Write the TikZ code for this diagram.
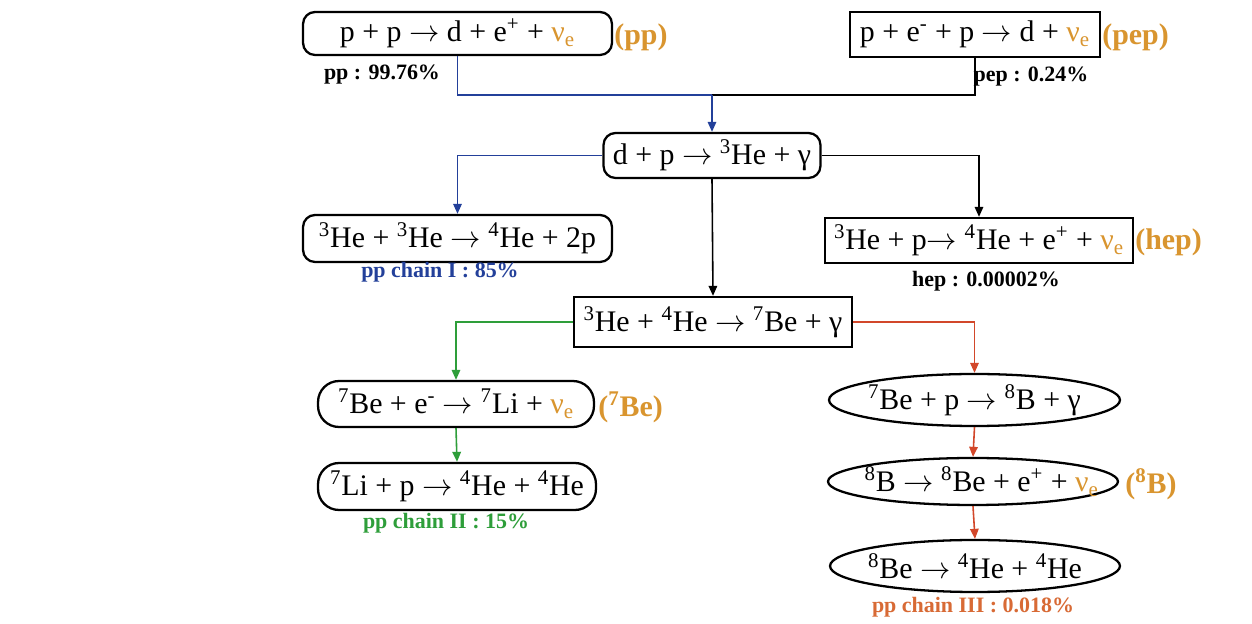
\documentclass[tikz,border=0pt]{standalone}
\usepackage{fontspec}
\setmainfont{Liberation Serif}
\usetikzlibrary{shapes.geometric,arrows.meta}
\definecolor{orangeT}{HTML}{D9952F}
\definecolor{blueL}{HTML}{23409A}
\definecolor{greenL}{HTML}{2E9E3A}
\definecolor{redL}{HTML}{D2472A}
\definecolor{chainIII}{HTML}{D86A35}
\newcommand{\nue}{\textcolor{orangeT}{ν\textsubscript{e}}}
\newcommand{\sps}[1]{\textsuperscript{#1}}
\newcommand{\ra}{\(\rightarrow\)}
\newcommand{\zw}[1]{\makebox[0pt]{#1}}
\begin{document}
\begin{tikzpicture}[x=0.02cm,y=-0.02cm,
  eq/.style={font=\fontsize{17}{20}\selectfont, line width=1.3pt, inner sep=0pt, align=center},
  rbox/.style={eq, draw, rounded corners=0.24cm},
  sbox/.style={eq, draw},
  pill/.style={eq, draw, rounded corners=0.42cm},
  ell/.style={eq, draw, ellipse},
  tag/.style={font=\bfseries\fontsize{17}{20}\selectfont, text=orangeT, anchor=west, inner sep=0pt},
  small/.style={font=\bfseries\fontsize{12.5}{15}\selectfont, inner sep=0pt},
  conn/.style={line width=0.9pt},
  arr/.style={conn, -{Triangle[length=0.2cm,width=0.17cm]}}
]
\path[fill=white, use as bounding box] (0,0) rectangle (1252,624);

% nodes
\node[rbox, minimum width=6.18cm, minimum height=0.86cm] (pp) at (457.5,33.5) {\zw{p + p \ra\ d + e\sps{+} + \nue}};
\node[sbox, minimum width=5.0cm, minimum height=0.9cm] (pep) at (975,34.5) {\zw{p + e\sps{-} + p \ra\ d + \nue}};
\node[rbox, minimum width=4.34cm, minimum height=0.9cm] (dp) at (712,155.5) {\zw{d + p \ra\ \sps{3}He + γ}};
\node[rbox, minimum width=6.18cm, minimum height=0.94cm] (he33) at (457.5,238.5) {\zw{\sps{3}He + \sps{3}He \ra\ \sps{4}He + 2p}};
\node[sbox, minimum width=6.16cm, minimum height=0.9cm] (hep) at (979,240.5) {\zw{\sps{3}He + p\ra\ \sps{4}He + e\sps{+} + \nue}};
\node[sbox, minimum width=5.56cm, minimum height=1.0cm] (he34) at (713,322) {\zw{\sps{3}He + \sps{4}He \ra\ \sps{7}Be + γ}};
\node[pill, minimum width=5.52cm, minimum height=0.92cm] (be7e) at (456,404) {\zw{\sps{7}Be + e\sps{-} \ra\ \sps{7}Li + \nue}};
\node[pill, minimum width=5.56cm, minimum height=0.94cm] (li7) at (457,486.5) {\zw{\sps{7}Li + p \ra\ \sps{4}He + \sps{4}He}};
\node[ell, minimum width=5.82cm, minimum height=1.04cm] (be7p) at (974.5,400) {\zw{\sps{7}Be + p \ra\ \sps{8}B + γ}};
\node[ell, minimum width=5.8cm, minimum height=0.94cm] (b8) at (973,481.5) {\zw{\hspace{0.35cm}\sps{8}B \ra\ \sps{8}Be + e\sps{+} + \nue}};
\node[ell, minimum width=5.8cm, minimum height=1.04cm] (be8) at (975,566) {\zw{\sps{8}Be \ra\ \sps{4}He + \sps{4}He}};

% tags and labels
\node[tag] (tpp) at (614,37) {(pp)};
\node[tag] (tpep) at (1102,37) {(pep)};
\node[tag] (thep) at (1135,242) {(hep)};
\node[tag] (tbe) at (598,407) {(\sps{7}Be)};
\node[tag] (tb) at (1125,484) {(\sps{8}B)};
\node[small] (lpp) at (382,75) {pp : 99.76\%};
\node[small] (lpep) at (1031,77) {pep : 0.24\%};
\node[small, text=blueL] (lI) at (440,272) {pp chain I : 85\%};
\node[small] (lhep) at (986,281) {hep : 0.00002\%};
\node[small, text=greenL] (lII) at (446,523) {pp chain II : 15\%};
\node[small, text=chainIII] (lIII) at (973,607) {pp chain III : 0.018\%};

% connectors
\coordinate (j) at (712,95);
\draw[conn, blueL] (pp.south) |- (j);
\draw[conn] (pep.south) |- (j);
\draw[arr, blueL] (j) -- (dp.north);
\draw[arr, blueL] (dp.west) -| (he33.north);
\draw[arr] (dp.east) -| (hep.north);
\draw[arr] (dp.south) -- (he34.north);
\draw[arr, greenL] (he34.west) -| (be7e.north);
\draw[arr, redL] (he34.east) -| (be7p.north);
\draw[arr, greenL] (be7e.south) -- (li7.north);
\draw[arr, redL] (be7p.south) -- (b8.north);
\draw[arr, redL] (b8.south) -- (be8.north);
\end{tikzpicture}
\end{document}
